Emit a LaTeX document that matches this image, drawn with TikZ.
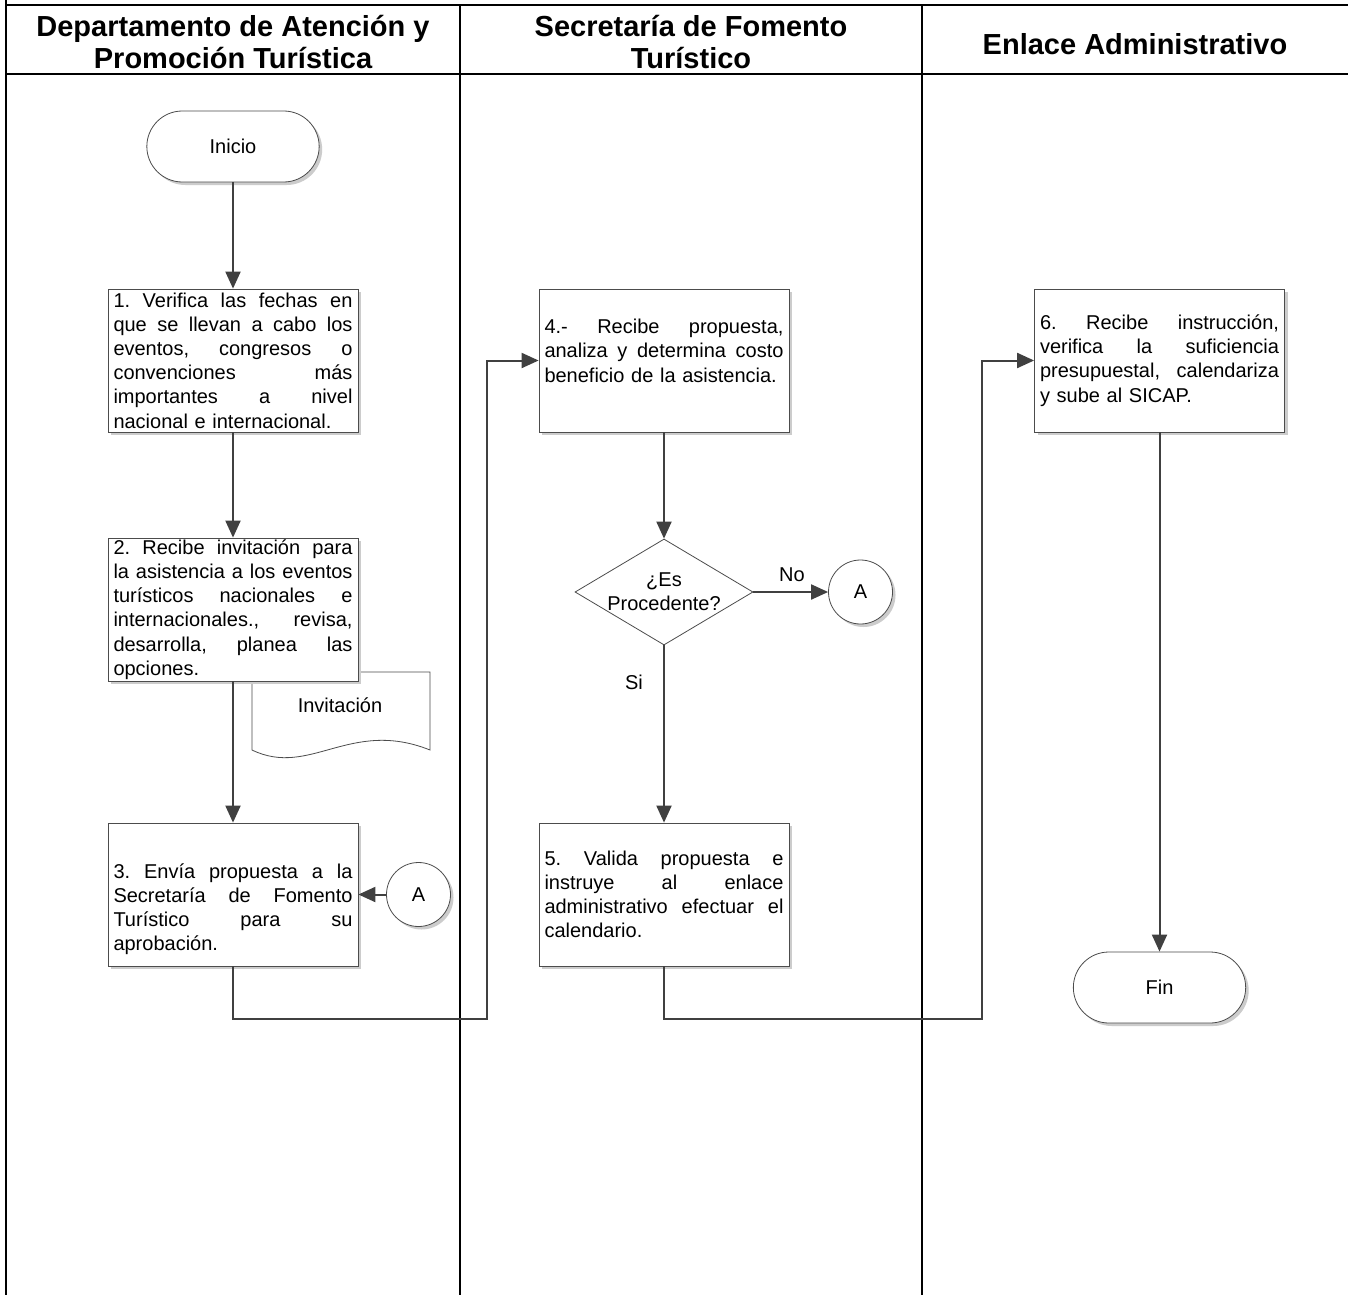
\documentclass[tikz,border=0pt]{standalone}
\usepackage{fontspec}
\setmainfont{Liberation Sans}
\usetikzlibrary{arrows.meta,shapes.geometric,shapes.misc,shadows}
\frenchspacing
\newcommand\JL[1]{\leavevmode\hbox to\hsize{\spaceskip=\fontdimen2\font plus 1fil\relax\xspaceskip=\spaceskip #1}}
\begin{document}
\begin{tikzpicture}[x=1pt,y=-1pt,
  frameline/.style={line width=2pt,draw=black},
  headtxt/.style={font=\fontsize{29}{32}\selectfont\bfseries, align=center, anchor=base},
  body/.style={font=\fontsize{20}{24.2}\selectfont},
  shad/.style={drop shadow={shadow xshift=3pt,shadow yshift=-3pt,fill=black!20,opacity=1}},
  procbox/.style={body, shad, rectangle, draw=black!70, line width=0.8pt, fill=white,
    minimum width=250pt, minimum height=143pt, text width=239pt,
    inner xsep=5.5pt, inner ysep=1pt, align=left},
  term/.style={body, shad, rounded rectangle, draw=black!70, line width=0.8pt, fill=white,
    minimum width=179pt, minimum height=71pt},
  conncirc/.style={body, shad, circle, draw=black!70, line width=0.8pt, fill=white,
    minimum size=64pt, inner sep=0pt},
  decision/.style={diamond, draw=black!70, line width=0.8pt, fill=white,
    minimum width=178pt, minimum height=106pt, inner sep=0pt},
  conn/.style={line width=2pt, draw=black!75, -{Triangle[length=17pt,width=15pt]}},
]
\useasboundingbox (0,0) rectangle (1348,1295);
\fill[white] (0,0) rectangle (1348,1295);

% frame and lanes
\draw[frameline] (6,0) -- (6,1295);
\draw[frameline] (6,5.5) -- (1348,5.5);
\draw[line width=2.5pt] (6,74) -- (1348,74);
\draw[frameline] (460,5.5) -- (460,1295);
\draw[frameline] (922,5.5) -- (922,1295);

% headers
\node[headtxt] (h1) at (233,69) {Departamento de Atención y\\Promoción Turística};
\node[headtxt] (h2) at (691,69) {Secretaría de Fomento\\Turístico};
\node[headtxt] (h3) at (1135,55) {Enlace Administrativo};

% document shape
\draw[draw=black!70, line width=0.8pt, fill=white] (252,672) -- (430,672) -- (430,750)
  .. controls (350,718) and (310,778) .. (252,750) -- cycle;
\node[body] (inv) at (340,705) {Invitación};

% nodes
\node[term] (ini) at (233,146.5) {Inicio};
\node[procbox] (b1) at (233,360.5) {\JL{1. Verifica las fechas en}\\\JL{que se llevan a cabo los}\\\JL{eventos, congresos o}\\\JL{convenciones más}\\\JL{importantes a nivel}\\nacional e internacional.};
\node[procbox] (b2) at (233,609.5) {\JL{2. Recibe invitación para}\\\JL{la asistencia a los eventos}\\\JL{turísticos nacionales e}\\\JL{internacionales., revisa,}\\\JL{desarrolla, planea las}\\opciones.};
\node[procbox, text height=44pt] (b3) at (233,894.5) {\JL{3. Envía propuesta a la}\\\JL{Secretaría de Fomento}\\\JL{Turístico para su}\\aprobación.};
\node[conncirc] (A1) at (418.5,894.5) {A};

\node[procbox, text depth=68pt] (b4) at (664,360.5) {\JL{4.- Recibe propuesta,}\\\JL{analiza y determina costo}\\beneficio de la asistencia.};
\node[decision] (d) at (664,592) {};
\node[body, align=center] (dt) at (664,592) {¿Es\\Procedente?};
\node[conncirc] (A2) at (860.5,592) {A};
\node[body] (no) at (792,575) {No};
\node[body] (si) at (634,682) {Si};
\node[procbox] (b5) at (664,894.5) {\JL{5. Valida propuesta e}\\\JL{instruye al enlace}\\\JL{administrativo efectuar el}\\calendario.};

\node[procbox] (b6) at (1159.5,360.5) {\JL{6. Recibe instrucción,}\\\JL{verifica la suficiencia}\\\JL{presupuestal, calendariza}\\y sube al SICAP.};
\node[term] (fin) at (1159.5,987.5) {Fin};

% connectors
\draw[conn] (ini.south) -- (b1.north);
\draw[conn] (b1.south) -- (b2.north);
\draw[conn] (b2.south) -- (b3.north);
\draw[conn] (A1.west) -- (b3.east);
\draw[conn] (b3.south) -- ++(0,53) -| ([xshift=-52pt]b4.west) -- (b4.west);
\draw[conn] (b4.south) -- (d.north);
\draw[conn] (d.east) -- (A2.west);
\draw[conn] (d.south) -- (b5.north);
\draw[conn] (b5.south) -- ++(0,53) -| ([xshift=-52pt]b6.west) -- (b6.west);
\draw[conn] (b6.south) -- (fin.north);
\end{tikzpicture}
\end{document}
